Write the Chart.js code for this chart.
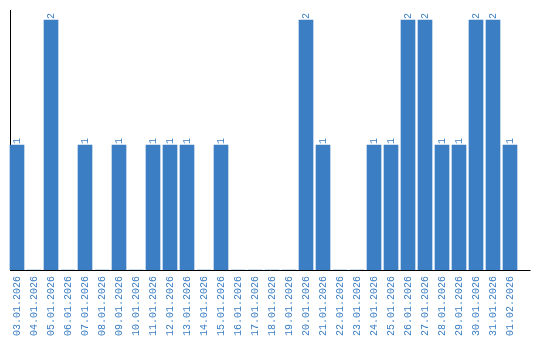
<!DOCTYPE html>
<html>
<head>
<meta charset="utf-8">
<script src="https://cdn.jsdelivr.net/npm/chart.js@4/dist/chart.umd.min.js"></script>
<style>
  body { margin: 0; background: #fff; }
</style>
</head>
<body>
<canvas id="canvas" width="540" height="340"></canvas>
<script>
'use strict';

var days = [
	'03.01.2026', '04.01.2026', '05.01.2026', '06.01.2026', '07.01.2026',
	'08.01.2026', '09.01.2026', '10.01.2026', '11.01.2026', '12.01.2026',
	'13.01.2026', '14.01.2026', '15.01.2026', '16.01.2026', '17.01.2026',
	'18.01.2026', '19.01.2026', '20.01.2026', '21.01.2026', '22.01.2026',
	'23.01.2026', '24.01.2026', '25.01.2026', '26.01.2026', '27.01.2026',
	'28.01.2026', '29.01.2026', '30.01.2026', '31.01.2026', '01.02.2026'
];
var counts = [
	1, 0, 2, 0, 1,
	0, 1, 0, 1, 1,
	1, 0, 1, 0, 0,
	0, 0, 2, 1, 0,
	0, 1, 1, 2, 2,
	1, 1, 2, 2, 1
];

var blue = 'rgb(59, 126, 195)';

// black axis lines, drawn under the bars
var axisLines = {
	id: 'axisLines',
	beforeDatasetsDraw: function(chart) {
		var a = chart.chartArea;
		var ctx = chart.ctx;
		ctx.save();
		ctx.strokeStyle = '#000';
		ctx.lineWidth = 1;
		ctx.beginPath();
		ctx.moveTo(a.left + 2, a.top);
		ctx.lineTo(a.left + 2, a.bottom);
		ctx.moveTo(a.left + 1.5, a.bottom + 0.5);
		ctx.lineTo(a.right + 12, a.bottom + 0.5);
		ctx.stroke();
		ctx.restore();
	}
};

// rotated value above each bar
var barValues = {
	id: 'barValues',
	afterDatasetsDraw: function(chart) {
		var ctx = chart.ctx;
		var meta = chart.getDatasetMeta(0);
		ctx.save();
		ctx.fillStyle = blue;
		ctx.font = '10px "Liberation Mono"';
		ctx.textAlign = 'left';
		ctx.textBaseline = 'middle';
		meta.data.forEach(function(bar, i) {
			if (!counts[i]) return;
			ctx.save();
			ctx.translate(bar.x, bar.y - 1);
			ctx.rotate(-Math.PI / 2);
			ctx.fillText(String(counts[i]), 0, 0);
			ctx.restore();
		});
		ctx.restore();
	}
};

window.onload = function() {
	var ctx = document.getElementById('canvas').getContext('2d');
	window.myBar = new Chart(ctx, {
		type: 'bar',
		data: {
			labels: days,
			datasets: [{
				data: counts,
				backgroundColor: blue,
				borderWidth: 0,
				barThickness: 14
			}]
		},
		options: {
			responsive: false,
			devicePixelRatio: 1,
			animation: false,
			layout: {
				padding: { left: 8.5, right: 21.5, top: 10, bottom: 0 }
			},
			plugins: {
				legend: { display: false },
				tooltip: { enabled: false }
			},
			scales: {
				x: {
					grid: { display: false, drawTicks: false },
					border: { display: false },
					afterFit: function(scale) { scale.height = 70; },
					ticks: {
						autoSkip: false,
						minRotation: 90,
						maxRotation: 90,
						padding: 6,
						color: blue,
						font: { family: '"Liberation Mono"', size: 10 }
					}
				},
				y: {
					display: false,
					min: 0,
					max: 2.08
				}
			}
		},
		plugins: [axisLines, barValues]
	});
};
</script>
</body>
</html>
